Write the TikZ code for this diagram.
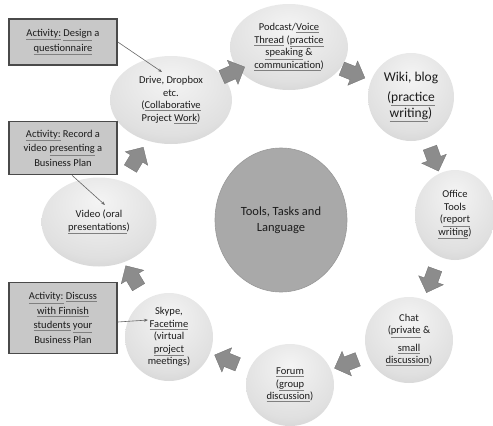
\documentclass[tikz,border=0pt]{standalone}
\usepackage{fontspec}
\setmainfont{Carlito}
\usepackage{tikz}
\usetikzlibrary{calc,positioning,arrows.meta,shapes.geometric,shapes.arrows}
\usepackage{xcolor}
\definecolor{Ink}{HTML}{1C1C1C}
\definecolor{BallTop}{HTML}{F4F4F4}
\definecolor{BallMid}{HTML}{E0E0E0}
\definecolor{BallEdge}{HTML}{ABABAB}
\definecolor{Hub}{HTML}{A9A9A9}
\definecolor{BoxFill}{HTML}{C8C8C8}
\definecolor{BoxLine}{HTML}{4A4A4A}
\definecolor{Chevron}{HTML}{8C8C8C}
\pgfdeclareradialshading{toolball}{\pgfpoint{0bp}{12bp}}{color(0bp)=(BallTop); color(28bp)=(BallMid); color(62bp)=(BallEdge); color(90bp)=(BallEdge)}
\newcommand{\undl}[1]{{\color{gray}\underline{\color{Ink}#1}}}

\begin{document}
\begin{tikzpicture}[x=1pt,y=1pt,every node/.style={align=center,text=Ink},
  tool/.style={ellipse,shading=toolball,inner sep=0pt,font=\fontsize{10.5}{12.5}\selectfont},
  activity/.style={draw=BoxLine,fill=BoxFill,line width=1.6pt,minimum width=108,inner sep=0pt,font=\fontsize{10.5}{14.5}\selectfont},
  chevron/.style={single arrow,fill=Chevron,draw=Chevron!80!black,line width=.3pt,inner xsep=0pt,inner ysep=7pt,minimum height=25,single arrow head extend=6pt},
  pointer/.style={-{Stealth[length=4pt,width=3pt]},draw=black!60,line width=.6pt}]
  \useasboundingbox (0,0) rectangle (493,-426);
  \node[ellipse,fill=Hub,draw=black!40,line width=.6pt,minimum width=132,minimum height=144,font=\fontsize{12.5}{16}\selectfont] (hub) at (281,-220) {Tools, Tasks and\\Language};
  \node[tool,minimum width=122,minimum height=88] (drive) at (171,-100) {Drive, Dropbox\\etc.\\(\undl{Collaborative}\\Project \undl{Work})};
  \node[tool,minimum width=118,minimum height=86] (podcast) at (289,-47) {Podcast/\undl{Voice}\\\undl{Thread} (\undl{practice}\\\undl{speaking} \&\\\undl{communication})};
  \node[tool,minimum width=86,minimum height=88,font=\fontsize{13.5}{16}\selectfont] (wiki) at (411,-97) {Wiki, blog\\[4pt](\undl{practice}\\\undl{writing})};
  \node[tool,minimum width=80,minimum height=90] (office) at (455,-215) {Office\\Tools\\(\undl{report}\\\undl{writing})};
  \node[tool,minimum width=88,minimum height=86] (chat) at (409,-340) {Chat\\(\undl{private} \&\\[5pt]\undl{small}\\\undl{discussion})};
  \node[tool,minimum width=88,minimum height=82] (forum) at (290,-385) {\undl{Forum}\\(\undl{group}\\\undl{discussion})};
  \node[tool,minimum width=88,minimum height=88] (skype) at (169,-337) {Skype,\\\undl{Facetime}\\(virtual\\\undl{project}\\meetings)};
  \node[tool,minimum width=115,minimum height=89] (video) at (99,-222) {Video (oral\\\undl{presentations})};
  \node[chevron,rotate=24] (c1) at ($(drive)!.5!(podcast)$) {};
  \node[chevron,rotate=-22] (c2) at ($(podcast)!.5!(wiki)$) {};
  \node[chevron,rotate=-70] (c3) at ($(wiki)!.5!(office)$) {};
  \node[chevron,rotate=-110] (c4) at ($(office)!.5!(chat)$) {};
  \node[chevron,rotate=-159] (c5) at ($(chat)!.5!(forum)$) {};
  \node[chevron,rotate=158] (c6) at ($(forum)!.5!(skype)$) {};
  \node[chevron,rotate=121] (c7) at ($(skype)!.5!(video)$) {};
  \node[chevron,rotate=59] (c8) at ($(video)!.5!(drive)$) {};
  \node[activity,minimum height=46] (design) at (63,-42) {\undl{Activity:} \undl{Design} a\\\undl{questionnaire}};
  \node[activity,minimum height=53] (record) at (63,-148) {\undl{Activity:} Record a\\video \undl{presenting} a\\Business Plan};
  \node[activity,minimum height=71] (discuss) at (63,-318) {\undl{Activity:} \undl{Discuss}\\\undl{with Finnish}\\\undl{students} \undl{your}\\Business Plan};
  \coordinate (drivein) at ([shift={(-9,28)}]drive.center);
  \coordinate (videoin) at ([shift={(6,17)}]video.center);
  \coordinate (skypein) at ([shift={(-21,17)}]skype.center);
  \draw[pointer] (design.east) -- (drivein);
  \draw[pointer] ([xshift=9]record.south) -- (videoin);
  \draw[pointer] ([yshift=-4]discuss.east) -- (skypein);
\end{tikzpicture}
\end{document}
